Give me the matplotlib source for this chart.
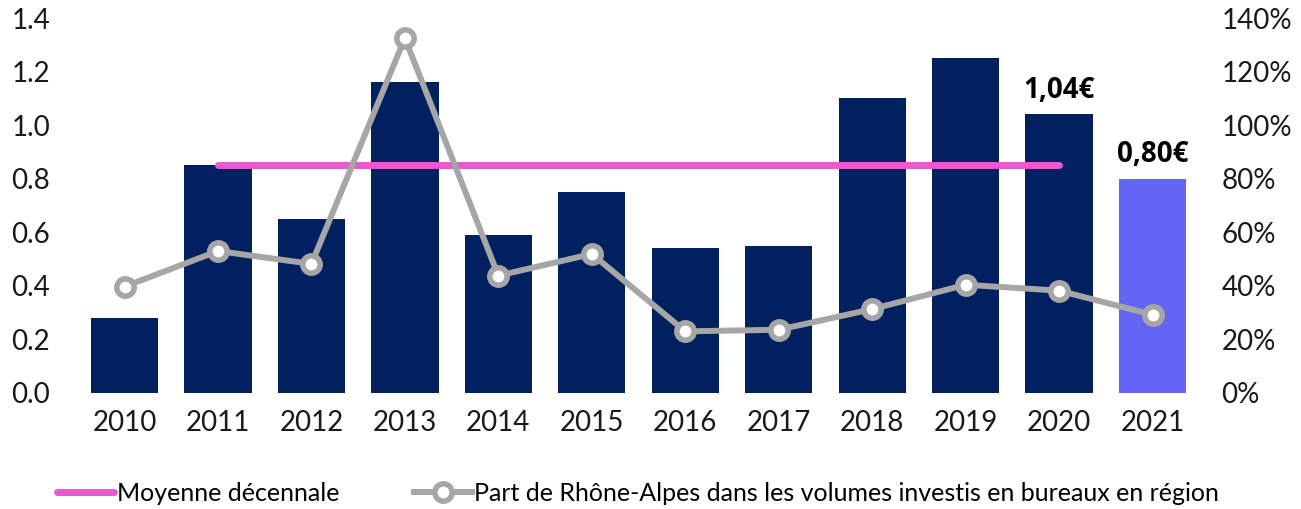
import numpy as np
import matplotlib.pyplot as plt
from matplotlib.ticker import FuncFormatter

# Données
annees = ['2010', '2011', '2012', '2013', '2014', '2015', '2016', '2017', '2018', '2019', '2020', '2021']
valeurs = [0.28, 0.85, 0.65, 1.16, 0.59, 0.75, 0.54, 0.55, 1.10, 1.25, 1.04, 0.80]
part_region = [39.7, 53.0, 48.2, 132.5, 43.8, 51.9, 23.0, 23.6, 31.3, 40.4, 38.2, 29.2]
moyenne = 0.85
etiquettes = {'2020': '1,04€', '2021': '0,80€'}

plt.rcParams['font.family'] = ['Lato', 'DejaVu Sans']

fig = plt.figure(figsize=(13.01, 5.09), dpi=100)
ax = fig.add_axes([0.0598, 0.228, 0.862, 0.7365])
x = np.arange(len(annees))

couleurs = ['#002060'] * 11 + ['#6464F5']
ax.bar(x, valeurs, width=0.72, color=couleurs, zorder=2)

# moyenne décennale de 2011 à 2020
ligne_moy, = ax.plot([x[1], x[10]], [moyenne, moyenne], color='#E85ACD', lw=5,
                     solid_capstyle='round', zorder=3, label='Moyenne décennale')

for i, a in enumerate(annees):
    if a in etiquettes:
        ax.text(x[i], valeurs[i] + 0.035, etiquettes[a], ha='center', va='bottom',
                fontsize=20, fontweight='bold', family=['Open Sans', 'DejaVu Sans'])

ax.set_xlim(-0.5, len(annees) - 0.5)
ax.set_ylim(0, 1.4)
ax.set_yticks(np.arange(0, 1.41, 0.2))
ax.yaxis.set_major_formatter(FuncFormatter(lambda v, p: f'{v:.1f}'))
ax.set_xticks(x)
ax.set_xticklabels(annees)
ax.tick_params(axis='both', length=0, labelsize=20, colors='#1a1a1a')
ax.tick_params(axis='x', pad=12)
ax.tick_params(axis='y', pad=20)
for s in ax.spines.values():
    s.set_visible(False)

ax2 = ax.twinx()
ligne_part, = ax2.plot(x, part_region, color='#A6A6A6', lw=4.3, marker='o', ms=12.5,
                       mfc='white', mec='#A6A6A6', mew=4, zorder=4,
                       label='Part de Rhône-Alpes dans les volumes investis en bureaux en région')
ax2.set_ylim(0, 140)
ax2.set_yticks(np.arange(0, 141, 20))
ax2.yaxis.set_major_formatter(FuncFormatter(lambda v, p: f'{v:.0f}%'))
ax2.tick_params(axis='y', length=0, labelsize=20, colors='#1a1a1a', pad=16)
for s in ax2.spines.values():
    s.set_visible(False)

leg = fig.legend(handles=[ligne_moy, ligne_part], loc='center left', bbox_to_anchor=(0.034, 0.031),
                 ncol=2, frameon=False, fontsize=18, handlelength=2.3, handletextpad=0.1,
                 columnspacing=3.0, borderpad=0)

fig.savefig('out.png', dpi=100)
